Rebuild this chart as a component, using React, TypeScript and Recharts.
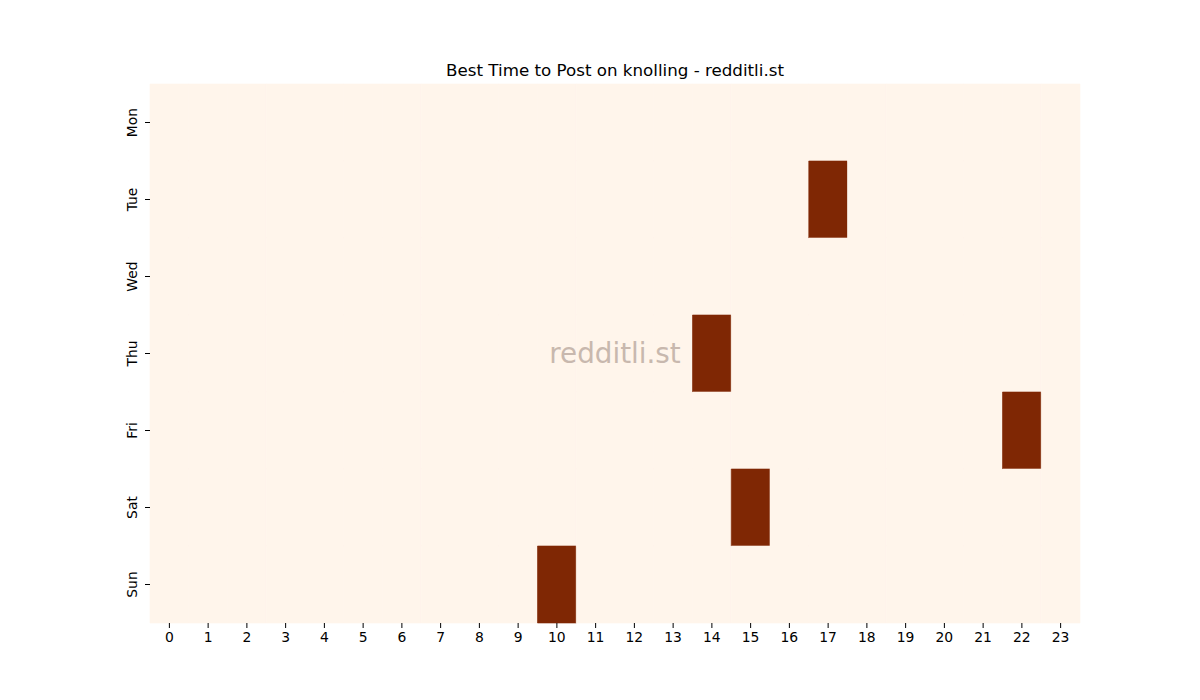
import { Bar, BarChart, Cell, XAxis, YAxis } from 'recharts';

const days = ['Mon', 'Tue', 'Wed', 'Thu', 'Fri', 'Sat', 'Sun'];
const hours = [0, 1, 2, 3, 4, 5, 6, 7, 8, 9, 10, 11, 12, 13, 14, 15, 16, 17, 18, 19, 20, 21, 22, 23];

// posts per (day, hour)
const postCounts: number[][] = [
  [0, 0, 0, 0, 0, 0, 0, 0, 0, 0, 0, 0, 0, 0, 0, 0, 0, 0, 0, 0, 0, 0, 0, 0],
  [0, 0, 0, 0, 0, 0, 0, 0, 0, 0, 0, 0, 0, 0, 0, 0, 0, 1, 0, 0, 0, 0, 0, 0],
  [0, 0, 0, 0, 0, 0, 0, 0, 0, 0, 0, 0, 0, 0, 0, 0, 0, 0, 0, 0, 0, 0, 0, 0],
  [0, 0, 0, 0, 0, 0, 0, 0, 0, 0, 0, 0, 0, 0, 1, 0, 0, 0, 0, 0, 0, 0, 0, 0],
  [0, 0, 0, 0, 0, 0, 0, 0, 0, 0, 0, 0, 0, 0, 0, 0, 0, 0, 0, 0, 0, 0, 1, 0],
  [0, 0, 0, 0, 0, 0, 0, 0, 0, 0, 0, 0, 0, 0, 0, 1, 0, 0, 0, 0, 0, 0, 0, 0],
  [0, 0, 0, 0, 0, 0, 0, 0, 0, 0, 1, 0, 0, 0, 0, 0, 0, 0, 0, 0, 0, 0, 0, 0],
];

const LOW = [255, 245, 235];
const HIGH = [127, 39, 4];
const FONT = '"DejaVu Sans", sans-serif';

const maxCount = Math.max(...postCounts.flat(), 1);
const shade = (v: number) => {
  const t = v / maxCount;
  const c = LOW.map((l, i) => Math.round(l + (HIGH[i] - l) * t));
  return `rgb(${c[0]},${c[1]},${c[2]})`;
};

// every cell is one unit wide; colour comes from postCounts
const rows = days.map(day => {
  const row: Record<string, string | number> = { day };
  hours.forEach(h => { row['h' + h] = 1; });
  return row;
});

const DayTick = (props: any) => {
  const { x, y, payload } = props;
  return (
    <text transform={`translate(${x - 4},${y}) rotate(-90)`} textAnchor="middle" fontSize={13.9} fontFamily={FONT} fill="#000">
      {payload.value}
    </text>
  );
};

export default function App() {
  return (
    <div style={{ position: 'absolute', left: 0, top: 0, width: 1200, height: 700, background: '#fff' }}>
      <div style={{ position: 'absolute', left: 150, width: 930, top: 60, textAlign: 'center', fontFamily: FONT, fontSize: 16.7, color: '#000' }}>
        Best Time to Post on knolling - redditli.st
      </div>
      <BarChart
        width={1200}
        height={700}
        data={rows}
        layout="vertical"
        barCategoryGap={0}
        margin={{ top: 84, right: 120, bottom: 47, left: 120 }}
      >
        <XAxis
          type="number"
          domain={[0, 24]}
          ticks={hours.map(h => h + 0.5)}
          tickFormatter={(v: number) => String(Math.floor(v))}
          interval={0}
          height={30}
          axisLine={false}
          tickSize={5}
          tickMargin={4}
          tickLine={{ stroke: '#000' }}
          tick={{ fontSize: 13.9, fontFamily: FONT, fill: '#000' }}
        />
        <YAxis
          type="category"
          dataKey="day"
          width={30}
          axisLine={false}
          tickSize={5}
          tickMargin={4}
          tickLine={{ stroke: '#000' }}
          tick={<DayTick />}
        />
        {hours.map(h => (
          <Bar key={h} dataKey={'h' + h} stackId="cells" isAnimationActive={false}>
            {days.map((d, i) => {
              const fill = shade(postCounts[i][h]);
              return <Cell key={d} fill={fill} stroke={fill} strokeWidth={0.6} />;
            })}
          </Bar>
        ))}
      </BarChart>
      <div style={{ position: 'absolute', left: 150, width: 930, top: 337, textAlign: 'center', fontFamily: FONT, fontSize: 27.8, color: '#c8b8ae', pointerEvents: 'none' }}>
        redditli.st
      </div>
    </div>
  );
}
